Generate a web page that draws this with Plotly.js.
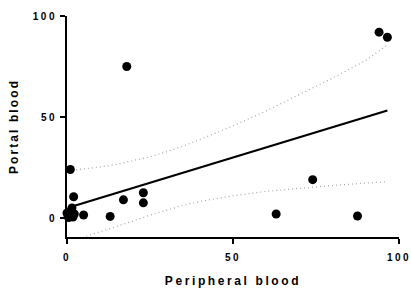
<!DOCTYPE html>
<html>
<head>
<meta charset="utf-8">
<script src="https://cdn.plot.ly/plotly-3.0.1.min.js"></script>
<style>
  html, body { margin: 0; padding: 0; background: #fff; }
  #chart { width: 411px; height: 291px; }
  .xtitle { letter-spacing: 2.6px; }
  .ytitle { letter-spacing: 2.1px; }
  .xtick text, .ytick text { letter-spacing: 2.5px; }
</style>
</head>
<body>
<div id="chart"></div>
<script>
// Observed points (peripheral blood vs portal blood)
const peripheral = [18, 94, 96.5, 74, 63, 87.5, 17, 23, 23, 1, 2, 5, 13, 0.3, 0.8, 1.5, 1.8, 0.5, 2.2, 0];
const portal     = [75, 92, 89.5, 19, 2, 1, 9, 12.5, 7.5, 24, 10.5, 1.5, 0.8, 1, 3, 5, 0.5, 0.2, 2, 2.5];

// Regression line endpoints
const fitX = [0.3, 96.5];
const fitY = [5.1, 53.2];

// 95% confidence band
const bandX     = [0.3, 5, 10, 15, 20, 25, 30, 35, 40, 50, 60, 70, 80, 90, 96.5];
const bandUpper = [23.4, 24.3, 25.3, 26.6, 28.3, 30.3, 32.8, 35.6, 38.8, 45.6, 53, 61, 69.3, 78, 85.8];
const bandLower = [-13, -9.5, -6.8, -4.2, -1.4, 1.4, 4, 6.3, 8.2, 11, 13.2, 14.8, 16.1, 17.3, 18];

// Axis ticks
const xTicks = [0, 50, 100];
const yTicks = [0, 50, 100];

const bandStyle = { color: '#a8a8a8', width: 1.2, dash: '1px,3px' };

const traces = [
  { x: bandX, y: bandUpper, type: 'scatter', mode: 'lines', line: bandStyle, hoverinfo: 'skip' },
  { x: bandX, y: bandLower, type: 'scatter', mode: 'lines', line: bandStyle, hoverinfo: 'skip' },
  { x: fitX, y: fitY, type: 'scatter', mode: 'lines', line: { color: '#000', width: 2.2 } },
  { x: peripheral, y: portal, type: 'scatter', mode: 'markers', cliponaxis: false,
    marker: { color: '#000', size: 9 } }
];

const fontFam = '"Liberation Sans", Arial, sans-serif';

const layout = {
  width: 411, height: 291,
  margin: { l: 67, r: 12, t: 16, b: 54 },
  paper_bgcolor: '#fff', plot_bgcolor: '#fff',
  showlegend: false,
  font: { family: fontFam, color: '#000' },
  xaxis: {
    range: [0, 100], tickvals: xTicks, ticktext: xTicks.map(String),
    showgrid: false, zeroline: false, showline: true, linecolor: '#000', linewidth: 2,
    ticks: 'outside', ticklen: 5, tickwidth: 2, tickcolor: '#000',
    ticklabelstandoff: 5, ticklabeloverflow: 'allow',
    tickfont: { family: fontFam, size: 10, weight: 'bold', color: '#000' },
    title: { text: 'Peripheral blood', font: { family: fontFam, size: 12, weight: 'bold', color: '#000' }, standoff: 15 }
  },
  yaxis: {
    range: [-9.4, 100], tickvals: yTicks, ticktext: yTicks.map(String),
    showgrid: false, zeroline: false, showline: true, linecolor: '#000', linewidth: 2,
    ticks: 'outside', ticklen: 5, tickwidth: 2, tickcolor: '#000',
    ticklabelstandoff: 1,
    tickfont: { family: fontFam, size: 10, weight: 'bold', color: '#000' },
    title: { text: 'Portal blood', font: { family: fontFam, size: 12, weight: 'bold', color: '#000' }, standoff: 12 }
  }
};

Plotly.newPlot('chart', traces, layout, { displayModeBar: false, staticPlot: true });
</script>
</body>
</html>
